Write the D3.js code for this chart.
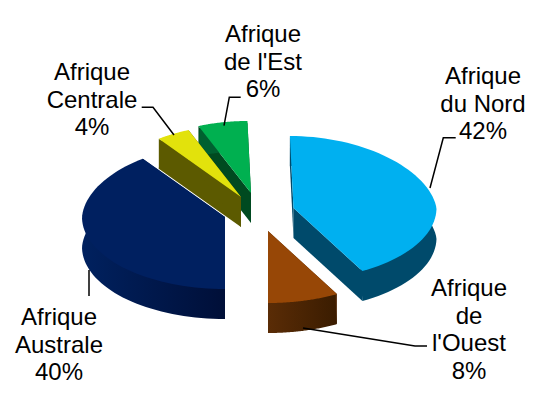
<!DOCTYPE html>
<html>
<head>
<meta charset="utf-8">
<script src="https://cdn.jsdelivr.net/npm/d3@7/dist/d3.min.js"></script>
<style>
  html, body { margin: 0; background: #fff; }
  svg { display: block; }
  text { font-family: "Liberation Sans", Arial, sans-serif; font-size: 24px; fill: #000; }
</style>
</head>
<body>
<svg id="chart" width="534" height="394"></svg>
<script>
const regions = ['Afrique du Nord', "Afrique de l'Ouest", 'Afrique Australe', 'Afrique Centrale', "Afrique de l'Est"];
const shares = [42, 8, 40, 4, 6];
const labelLines = [
  ['Afrique', 'du Nord', '42%'],
  ['Afrique', 'de', "l'Ouest", '8%'],
  ['Afrique', 'Australe', '40%'],
  ['Afrique', 'Centrale', '4%'],
  ['Afrique', "de l'Est", '6%']
];
const topColors = ['#00b0f0', '#974706', '#002060', '#e2e20c', '#00b050'];
const wallColors = ['#004a6b', '#4a2200', '#001a4d', '#5c5a00', '#004a20'];
const rimStart = ['#004a6b', '#5a2c06', '#00215f', '#5c5a00', '#006030'];
const rimEnd = ['#004a6b', '#3a1c00', '#000f38', '#5c5a00', '#006030'];

// apex of every exploded slice, in page pixels
const apexX = [293.5, 268, 225, 241, 251];
const apexY = [208, 231, 217, 197, 193];
const labelX = [483, 469, 59, 92, 263];
const labelY = [84, 296, 325, 80, 42];
const lineStep = 27.7;
const leaders = [
  [[430, 188], [443.3, 137.7], [455.7, 137.7]],
  [[303, 328], [415, 346], [427, 346]],
  [[89, 270], [89, 296]],
  [[174, 135], [153, 107.3], [141.7, 107.3]],
  [[224, 125.7], [229.3, 97.3], [240.7, 97.3]]
];

const rx = 143, ry = 72, depth = 30;
const svg = d3.select('#chart');
const defs = svg.append('defs');

const pie = d3.pie().sort(null).value(d => d);
const slices = pie(shares);

// tilted pie: back half is a bit narrower and leans left
const project = (a, r, i, down) => {
  const c = Math.cos(a), s = Math.sin(a);
  const back = Math.max(c, 0);
  const x = apexX[i] + r * rx * s * (1 - 0.07 * back) - 0.05 * r * ry * back;
  const y = apexY[i] - r * ry * c + (down ? depth : 0);
  return [x, y];
};

const line = d3.line();
const arcPoints = (d, i, down, r = 1) => d3.range(0, 61).map(k => {
  const a = d.startAngle + (d.endAngle - d.startAngle) * k / 60;
  return project(a, r, i, down);
});

// back to front, the yellow slice sits over the green one's wall
const order = [4, 3, 2, 0, 1];

order.forEach(i => {
  const d = slices[i];
  const g = svg.append('g').attr('class', 'slice');
  const apexTop = project(0, 0, i, false), apexLow = project(0, 0, i, true);

  [d.startAngle, d.endAngle].forEach(a => {
    g.append('path')
      .attr('d', line([apexTop, project(a, 1, i, false), project(a, 1, i, true), apexLow]) + 'Z')
      .attr('fill', wallColors[i]);
  });

  const grad = defs.append('linearGradient').attr('id', `rim${i}`);
  grad.append('stop').attr('offset', '0%').attr('stop-color', rimStart[i]);
  grad.append('stop').attr('offset', '100%').attr('stop-color', rimEnd[i]);
  // rim runs a little under the top face so no white seam shows
  g.append('path')
    .attr('d', line(arcPoints(d, i, false, 0.97).concat(arcPoints(d, i, true).reverse())) + 'Z')
    .attr('fill', `url(#rim${i})`);

  g.append('path')
    .attr('d', line([apexTop].concat(arcPoints(d, i, false))) + 'Z')
    .attr('fill', topColors[i]);
});

svg.selectAll('path.leader')
  .data(leaders)
  .enter()
  .append('path')
  .attr('class', 'leader')
  .attr('d', d => line(d))
  .attr('fill', 'none')
  .attr('stroke', '#000')
  .attr('stroke-width', 1.5);

regions.forEach((name, i) => {
  const t = svg.append('text').attr('text-anchor', 'middle').attr('data-region', name);
  labelLines[i].forEach((s, k) => {
    t.append('tspan').attr('x', labelX[i]).attr('y', labelY[i] + k * lineStep).text(s);
  });
});
</script>
</body>
</html>
